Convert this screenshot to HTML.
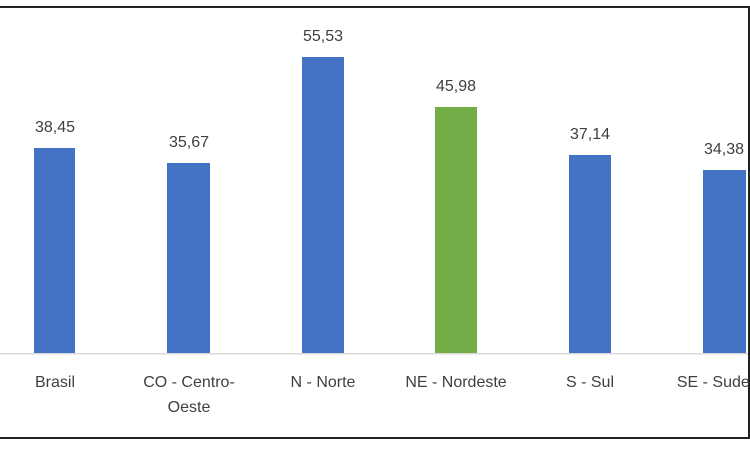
<!DOCTYPE html>
<html><head><style>
body{margin:0;width:750px;height:450px;background:#fff;overflow:hidden;font-family:"Liberation Sans",sans-serif;}
</style></head><body>
<svg width="750" height="450" xmlns="http://www.w3.org/2000/svg" font-family="Liberation Sans, sans-serif" font-size="16" fill="#404040">
<rect x="0" y="6" width="750" height="2" fill="#222"/>
<rect x="0" y="437" width="750" height="2" fill="#222"/>
<rect x="748" y="6" width="2" height="433" fill="#222"/>
<rect x="0" y="353" width="748" height="1.5" fill="#d9d9d9"/>
<rect x="34" y="148" width="41" height="205" fill="#4472c4"/>
<rect x="167" y="163" width="43" height="190" fill="#4472c4"/>
<rect x="302" y="57" width="42" height="296" fill="#4472c4"/>
<rect x="435" y="107" width="42" height="246" fill="#70ad47"/>
<rect x="569" y="155" width="42" height="198" fill="#4472c4"/>
<rect x="703" y="170" width="43" height="183" fill="#4472c4"/>
<g text-anchor="middle">
<text x="55" y="132">38,45</text>
<text x="189" y="147">35,67</text>
<text x="323" y="41">55,53</text>
<text x="456" y="91">45,98</text>
<text x="590" y="139">37,14</text>
<text x="724" y="154">34,38</text>
<text x="55" y="387">Brasil</text>
<text x="189" y="387">CO - Centro-</text>
<text x="189" y="412">Oeste</text>
<text x="323" y="387">N - Norte</text>
<text x="456" y="387">NE - Nordeste</text>
<text x="590" y="387">S - Sul</text>
<text x="724" y="387">SE - Sudeste</text>
</g>
</svg>
</body></html>
